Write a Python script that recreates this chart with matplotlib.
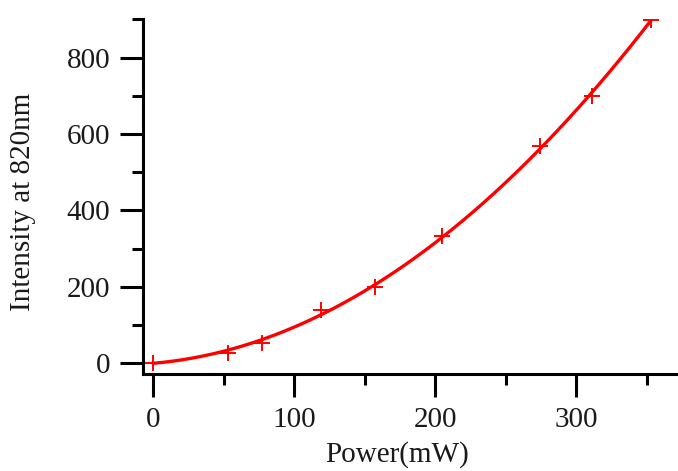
import numpy as np
import matplotlib
matplotlib.use("Agg")
import matplotlib.pyplot as plt
from matplotlib.ticker import MultipleLocator

power = [0, 53, 77, 119, 157, 205, 274, 311, 353]
intensity = [0, 26, 52, 140, 200, 333, 569, 700, 899]

plt.rcParams['font.family'] = ['Liberation Serif', 'DejaVu Serif']

fig = plt.figure(figsize=(6.78, 4.71), dpi=100)
W, H = 678, 471
ax = fig.add_axes([143 / W, 1 - 374 / H, (678 - 143) / W, (374 - 19) / H])

# least-squares fit through the origin: y = a*x^2 + b*x
px = np.asarray(power, float)
py = np.asarray(intensity, float)
A = np.column_stack([px ** 2, px])
(a, b), *_ = np.linalg.lstsq(A, py, rcond=None)
xs = np.linspace(0, px.max(), 200)
ax.plot(xs, a * xs ** 2 + b * xs, color='#ff0000', lw=2.4, zorder=2)
ax.plot(power, intensity, ls='none', marker='+', ms=12, mew=1.4, color='#ff0000', zorder=3)

ax.set_xlim(-7.3, 372)
ax.set_ylim(-28, 901)
ax.spines['top'].set_visible(False)
ax.spines['right'].set_visible(False)
for s in ('left', 'bottom'):
    ax.spines[s].set_linewidth(2.2)

ax.xaxis.set_major_locator(MultipleLocator(100))
ax.xaxis.set_minor_locator(MultipleLocator(50))
ax.yaxis.set_major_locator(MultipleLocator(200))
ax.yaxis.set_minor_locator(MultipleLocator(100))
ax.tick_params(which='major', direction='out', length=16.5, width=2.2, labelsize=21, pad=7)
ax.tick_params(which='minor', direction='out', length=8, width=2.2)

ax.set_xlabel('Power(mW)', fontsize=21, color='#1a1a1a')
ax.xaxis.set_label_coords((397 - 143) / 535, -0.188)
ax.set_ylabel('Intensity at 820nm', fontsize=21, color='#1a1a1a')
ax.yaxis.set_label_coords(-(143 - 36) / 535, 0.485)
for lab in ax.get_xticklabels() + ax.get_yticklabels():
    lab.set_color('#1a1a1a')

fig.savefig('out.png', dpi=100)
